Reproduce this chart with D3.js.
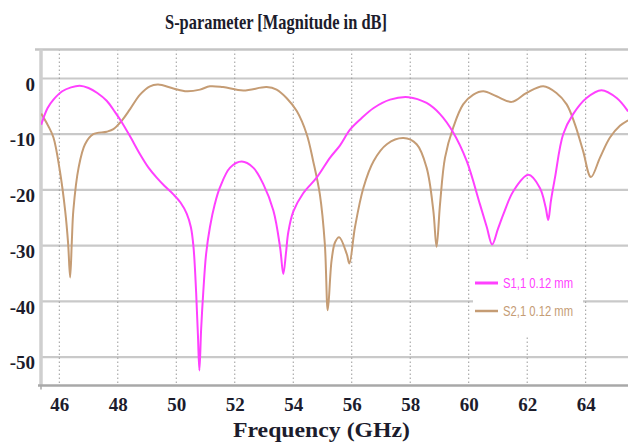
<!DOCTYPE html>
<html>
<head>
<meta charset="utf-8">
<script src="https://cdn.jsdelivr.net/npm/d3@7"></script>
<style>
  html, body { margin: 0; padding: 0; background: #fff; }
  svg { display: block; }
</style>
</head>
<body>
<svg id="chart" width="628" height="446"></svg>
<script>
// ---- data ----
const xTicks = [46, 48, 50, 52, 54, 56, 58, 60, 62, 64];
const yTicks = [0, -10, -20, -30, -40, -50];

const s11Freq = [45.38, 45.6, 45.8, 46.1, 46.4, 46.7, 47.0, 47.3, 47.62, 47.9, 48.13, 48.4, 48.76, 49.05, 49.33, 49.6, 49.9, 50.15, 50.36, 50.5, 50.59, 50.68, 50.74, 50.79, 50.85, 50.92, 51.02, 51.15, 51.32, 51.49, 51.84, 52.24, 52.63, 52.98, 53.32, 53.55, 53.66, 53.75, 53.83, 54.0, 54.34, 54.8, 55.26, 55.6, 55.94, 56.3, 56.75, 57.31, 57.94, 58.56, 59.02, 59.47, 59.93, 60.38, 60.62, 60.8, 61.0, 61.19, 61.53, 62.04, 62.43, 62.63, 62.72, 62.81, 62.95, 63.23, 63.57, 64.03, 64.54, 65.06, 65.45];
const s11Vals = [-8.3, -5.3, -3.8, -2.3, -1.6, -1.3, -1.7, -2.6, -4.0, -6.0, -7.8, -10.2, -13.6, -16.0, -17.8, -19.3, -20.8, -22.3, -24.3, -26.7, -30.3, -38.5, -46.0, -52.4, -45.0, -38.6, -31.5, -26.7, -22.5, -19.6, -16.0, -14.9, -16.0, -19.0, -23.7, -30.3, -35.1, -31.4, -27.6, -23.9, -20.6, -17.8, -14.2, -12.0, -9.2, -7.3, -5.3, -3.8, -3.35, -4.4, -6.4, -9.7, -14.8, -22.5, -26.7, -29.8, -27.0, -24.3, -20.2, -17.3, -19.6, -23.1, -25.4, -22.0, -17.8, -10.0, -6.4, -3.5, -2.1, -3.5, -5.9];

const s21Freq = [45.38, 45.62, 45.8, 46.02, 46.2, 46.3, 46.37, 46.43, 46.48, 46.66, 46.88, 47.16, 47.62, 47.85, 48.13, 48.42, 48.76, 49.1, 49.38, 49.9, 50.36, 50.81, 51.15, 51.6, 52.29, 53.09, 53.43, 53.77, 54.12, 54.46, 54.68, 54.91, 55.08, 55.18, 55.31, 55.43, 55.57, 55.83, 55.92, 56.11, 56.4, 56.75, 57.2, 57.77, 58.22, 58.56, 58.79, 58.9, 59.02, 59.19, 59.47, 59.81, 60.16, 60.5, 60.95, 61.47, 61.98, 62.55, 63.0, 63.35, 63.63, 63.91, 64.18, 64.49, 64.83, 65.17, 65.45];
const s21Vals = [-6.3, -8.5, -10.6, -16.6, -23.7, -29.5, -35.7, -29.0, -23.7, -16.0, -11.8, -10.0, -9.55, -9.1, -7.6, -5.5, -2.9, -1.4, -1.1, -1.8, -2.3, -2.0, -1.4, -1.55, -2.15, -1.55, -2.0, -3.5, -5.85, -10.0, -14.8, -20.8, -29.7, -41.6, -32.7, -29.4, -28.5, -31.5, -33.2, -26.7, -19.6, -14.8, -11.8, -10.7, -11.8, -16.0, -23.7, -30.2, -22.5, -14.2, -8.8, -4.65, -2.9, -2.3, -3.2, -4.2, -2.6, -1.4, -2.6, -4.65, -8.2, -13.0, -17.7, -14.2, -10.6, -8.5, -7.5];

const seriesNames = ["S1,1 0.12 mm", "S2,1 0.12 mm"];
const seriesColors = ["#ff40ff", "#c59c74"];
const titleText = "S-parameter [Magnitude in dB]";
const xTitle = "Frequency (GHz)";

// ---- layout ----
const svg = d3.select("#chart");
const pLeft = 41, pRight = 628, pTop = 49.5, pBottom = 385.5;
const x = d3.scaleLinear().domain([45.374, 65.447]).range([pLeft, pRight]);
const y = d3.scaleLinear().domain([-55.1, 5.2]).range([pBottom, pTop]);

svg.append("rect").attr("width", 628).attr("height", 446).attr("fill", "#fff");

// horizontal grid
svg.append("g").selectAll("line").data(yTicks).join("line")
  .attr("x1", pLeft).attr("x2", pRight)
  .attr("y1", d => y(d)).attr("y2", d => y(d))
  .attr("stroke", "#c9c9c9").attr("stroke-width", 2.2);

// vertical dotted grid
svg.append("g").selectAll("line").data(xTicks).join("line")
  .attr("x1", d => x(d)).attr("x2", d => x(d))
  .attr("y1", pTop).attr("y2", pBottom)
  .attr("stroke", "#9a9a9a").attr("stroke-width", 1)
  .attr("stroke-dasharray", "1.5,2.5");

// frame
svg.append("line").attr("x1", 35).attr("x2", pRight).attr("y1", pTop).attr("y2", pTop)
  .attr("stroke", "#c4c4c4").attr("stroke-width", 2.5);
svg.append("line").attr("x1", pLeft).attr("x2", pLeft).attr("y1", pTop).attr("y2", pBottom)
  .attr("stroke", "#cfcfcf").attr("stroke-width", 3.5);
svg.append("line").attr("x1", 38).attr("x2", pRight).attr("y1", pBottom).attr("y2", pBottom)
  .attr("stroke", "#a8a8a8").attr("stroke-width", 2.5);
svg.append("line").attr("x1", pLeft).attr("x2", pLeft).attr("y1", pBottom).attr("y2", pBottom + 4)
  .attr("stroke", "#a8a8a8").attr("stroke-width", 1.5);

// axis labels via d3 axes (styled)
const xAxis = d3.axisBottom(x).tickValues(xTicks).tickSize(0).tickPadding(0).tickFormat(d => String(d));
const gx = svg.append("g").attr("transform", `translate(0,${pBottom})`).call(xAxis);
gx.select(".domain").remove();
gx.selectAll("text")
  .attr("y", 19).attr("dy", "0.35em")
  .attr("font-family", "'Liberation Serif', 'Times New Roman', serif")
  .attr("font-weight", "bold").attr("font-size", 19).attr("fill", "#1c1c2c");

const yAxis = d3.axisLeft(y).tickValues(yTicks).tickSize(0).tickPadding(0).tickFormat(d => String(d));
const gy = svg.append("g").attr("transform", `translate(35,0)`).call(yAxis);
gy.select(".domain").remove();
gy.selectAll("text")
  .attr("x", 0).attr("y", 5).attr("dy", "0.35em")
  .attr("font-family", "'Liberation Serif', 'Times New Roman', serif")
  .attr("font-weight", "bold").attr("font-size", 19).attr("fill", "#1c1c2c");

// curves
svg.append("clipPath").attr("id", "plotclip").append("rect")
  .attr("x", pLeft).attr("y", pTop).attr("width", pRight - pLeft).attr("height", pBottom - pTop);

const line = d3.line().x(d => x(d[0])).y(d => y(d[1])).curve(d3.curveCatmullRom.alpha(0.5));
const s21 = s21Freq.map((f, i) => [f, s21Vals[i]]);
const s11 = s11Freq.map((f, i) => [f, s11Vals[i]]);

const plot = svg.append("g").attr("clip-path", "url(#plotclip)");
plot.append("path").datum(s21).attr("d", line)
  .attr("fill", "none").attr("stroke", seriesColors[1]).attr("stroke-width", 2);
plot.append("path").datum(s11).attr("d", line)
  .attr("fill", "none").attr("stroke", seriesColors[0]).attr("stroke-width", 2);

// legend
svg.append("rect").attr("x", 473).attr("y", 260).attr("width", 110).attr("height", 77).attr("fill", "#fff");
const legY = [283, 311];
const leg = svg.append("g").selectAll("g").data(seriesNames).join("g");
leg.append("line")
  .attr("x1", 475).attr("x2", 498)
  .attr("y1", (d, i) => legY[i]).attr("y2", (d, i) => legY[i])
  .attr("stroke", (d, i) => seriesColors[i]).attr("stroke-width", (d, i) => i === 0 ? 3 : 2.5);
leg.append("text")
  .attr("x", 503).attr("y", (d, i) => legY[i]).attr("dy", "0.35em")
  .attr("font-family", "'Liberation Sans Narrow', 'Liberation Sans', Arial, sans-serif")
  .attr("font-size", 14)
  .attr("textLength", 70).attr("lengthAdjust", "spacingAndGlyphs")
  .attr("fill", (d, i) => seriesColors[i])
  .text(d => d);

// titles
svg.append("text").attr("x", 276).attr("y", 29)
  .attr("text-anchor", "middle")
  .attr("font-family", "'Liberation Serif', 'Times New Roman', serif")
  .attr("font-weight", "bold").attr("font-size", 21)
  .attr("textLength", 222).attr("lengthAdjust", "spacingAndGlyphs")
  .attr("fill", "#1c1c2c")
  .text(titleText);

svg.append("text").attr("x", 321.5).attr("y", 437)
  .attr("text-anchor", "middle")
  .attr("font-family", "'Liberation Serif', 'Times New Roman', serif")
  .attr("font-weight", "bold").attr("font-size", 22)
  .attr("textLength", 177).attr("lengthAdjust", "spacingAndGlyphs")
  .attr("fill", "#1c1c2c")
  .text(xTitle);
</script>
</body>
</html>
